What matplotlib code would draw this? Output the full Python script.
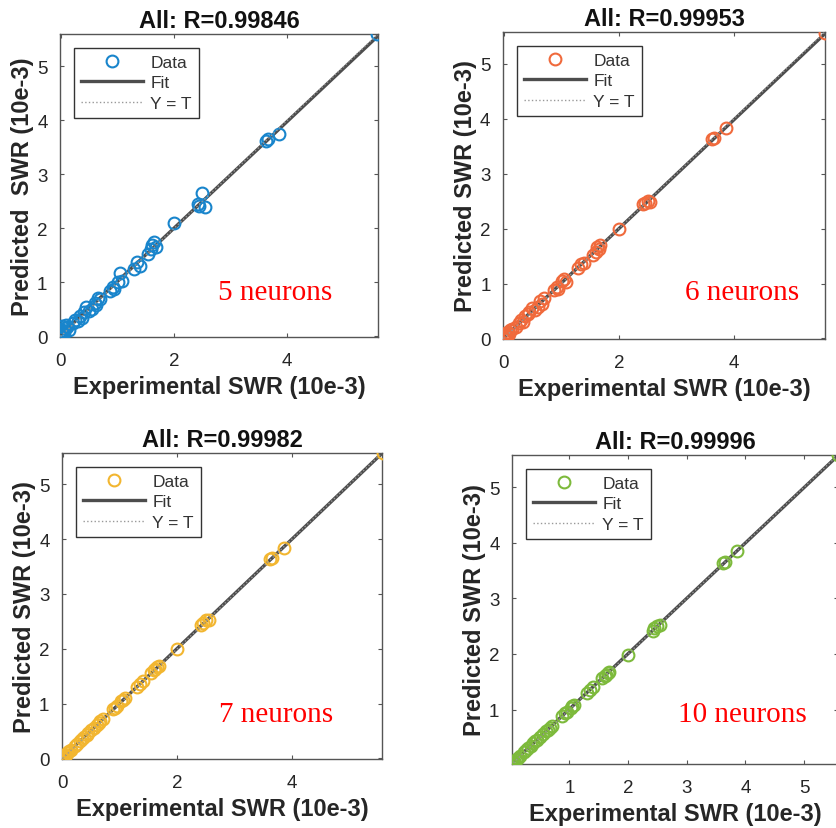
import matplotlib.pyplot as plt
import numpy as np

plt.rcParams['font.family'] = ['Liberation Sans', 'DejaVu Sans']

# experimental SWR (10e-3), shared by all four networks
exp_swr = [0.00, 0.00, 0.01, 0.01, 0.02, 0.02, 0.03, 0.04, 0.05, 0.06,
           0.08, 0.10, 0.12, 0.15, 0.22, 0.26, 0.30, 0.34, 0.38, 0.42,
           0.45, 0.50, 0.55, 0.60, 0.63, 0.66, 0.70, 0.88, 0.92, 0.95,
           1.02, 1.05, 1.08, 1.30, 1.35, 1.40, 1.55, 1.60, 1.62, 1.65,
           1.68, 2.00, 2.42, 2.45, 2.50, 2.55, 3.62, 3.66, 3.86, 5.58]

# predicted SWR for each network size
pred_5 = [0.02, -0.03, 0.08, 0.00, 0.12, 0.05, 0.20, 0.02, 0.10, 0.06,
          0.15, 0.22, 0.18, 0.12, 0.25, 0.30, 0.28, 0.38, 0.35, 0.45,
          0.55, 0.48, 0.50, 0.62, 0.58, 0.72, 0.70, 0.85, 0.92, 0.88,
          1.00, 1.17, 1.02, 1.25, 1.38, 1.30, 1.52, 1.62, 1.70, 1.75,
          1.65, 2.10, 2.45, 2.42, 2.65, 2.40, 3.62, 3.66, 3.75, 5.60]
pred_6 = [0.01, 0.03, 0.05, -0.01, 0.04, 0.08, 0.02, 0.10, 0.06, 0.03,
          0.12, 0.08, 0.15, 0.18, 0.20, 0.28, 0.33, 0.30, 0.40, 0.45,
          0.48, 0.55, 0.52, 0.58, 0.68, 0.62, 0.74, 0.88, 0.93, 0.90,
          1.05, 1.08, 1.03, 1.28, 1.36, 1.38, 1.52, 1.58, 1.66, 1.63,
          1.70, 2.00, 2.44, 2.47, 2.50, 2.48, 3.63, 3.65, 3.84, 5.56]
pred_7 = [0.01, 0.02, 0.03, 0.00, 0.04, 0.03, 0.05, 0.05, 0.07, 0.06,
          0.10, 0.11, 0.14, 0.16, 0.23, 0.27, 0.31, 0.35, 0.40, 0.43,
          0.46, 0.52, 0.56, 0.61, 0.64, 0.68, 0.72, 0.90, 0.92, 0.96,
          1.04, 1.06, 1.10, 1.31, 1.36, 1.42, 1.56, 1.61, 1.63, 1.66,
          1.69, 1.99, 2.43, 2.47, 2.53, 2.52, 3.64, 3.66, 3.84, 5.57]
pred_10 = [0.02, 0.02, 0.03, 0.03, 0.04, 0.04, 0.05, 0.05, 0.06, 0.07,
           0.09, 0.11, 0.13, 0.16, 0.23, 0.27, 0.31, 0.35, 0.39, 0.43,
           0.46, 0.51, 0.56, 0.61, 0.64, 0.67, 0.71, 0.89, 0.93, 0.96,
           1.03, 1.06, 1.09, 1.30, 1.36, 1.41, 1.56, 1.60, 1.63, 1.66,
           1.68, 1.99, 2.42, 2.46, 2.51, 2.53, 3.63, 3.66, 3.85, 5.58]

r_values = ['0.99846', '0.99953', '0.99982', '0.99996']
neurons = ['5 neurons', '6 neurons', '7 neurons', '10 neurons']
colors = ['#1985CC', '#F06A3C', '#F2B630', '#7DBA3C']
ylabels = ['Predicted  SWR (10e-3)', 'Predicted SWR (10e-3)',
           'Predicted SWR (10e-3)', 'Predicted SWR (10e-3)']
preds = [pred_5, pred_6, pred_7, pred_10]

fig = plt.figure(figsize=(8.36, 8.29), dpi=100)
W, H = 836, 829
# axes boxes in pixels: left, top, right, bottom
boxes = [(60, 35, 378, 338), (503, 33, 825, 340),
         (62, 454, 382, 760), (512, 456, 838, 765)]
limits = [(-0.01, 5.6), (-0.01, 5.58), (-0.01, 5.57), (0.02, 5.58)]
text_pos = [(0.497, 0.125), (0.565, 0.13), (0.49, 0.124), (0.51, 0.14)]
ink = '#262626'

for i in range(4):
    l, t, r, b = boxes[i]
    ax = fig.add_axes([l / W, (H - b) / H, (r - l) / W, (b - t) / H])
    x = np.array(exp_swr)
    y = np.array(preds[i])
    lo, hi = limits[i]

    # least-squares fit line
    k, c = np.polyfit(x, y, 1)
    xf = np.array([x.min(), x.max()])
    ax.plot(x, y, 'o', mfc='none', mec=colors[i], ms=8.5, mew=1.5,
            label='Data', zorder=3)
    ax.plot(xf, k * xf + c, '-', color='#4d4d4d', lw=2.4, label='Fit', zorder=2)
    ax.plot(xf, xf, ':', color='#999999', lw=1, label='Y = T', zorder=4)

    ax.set_xlim(lo, hi)
    ax.set_ylim(lo, hi)
    if i == 3:
        ax.set_xticks([1, 2, 3, 4, 5])
        ax.set_yticks([1, 2, 3, 4, 5])
    else:
        ax.set_xticks([0, 2, 4])
        ax.set_yticks([0, 1, 2, 3, 4, 5])

    ax.tick_params(direction='in', length=3, width=0.8, top=True, right=True,
                   labelsize=13.5, colors='#555555', pad=9)
    ax.tick_params(axis='x', pad=11)
    for tl in ax.get_xticklabels() + ax.get_yticklabels():
        tl.set_color(ink)
    for sp in ax.spines.values():
        sp.set_color('#555555')
        sp.set_linewidth(1)

    ax.set_title('All: R=' + r_values[i], fontsize=17, fontweight='bold',
                 color='#111111', pad=5)
    ax.set_xlabel('Experimental SWR (10e-3)', fontsize=17, fontweight='bold',
                  color=ink, labelpad=4)
    ax.set_ylabel(ylabels[i], fontsize=17, fontweight='bold', color=ink,
                  labelpad=2)

    leg = ax.legend(loc='upper left', fontsize=12.5, handlelength=3.6,
                    labelspacing=0.3, borderaxespad=0.8, fancybox=False,
                    framealpha=1, edgecolor='#333333', borderpad=0.4,
                    handletextpad=0.4)
    leg.get_frame().set_linewidth(1)
    for txt in leg.get_texts():
        txt.set_color('#333333')

    ax.text(text_pos[i][0], text_pos[i][1], neurons[i], transform=ax.transAxes,
            color='#FF0000', fontsize=21, family='Liberation Serif',
            ha='left', va='baseline')

fig.savefig('out.png', dpi=100)
